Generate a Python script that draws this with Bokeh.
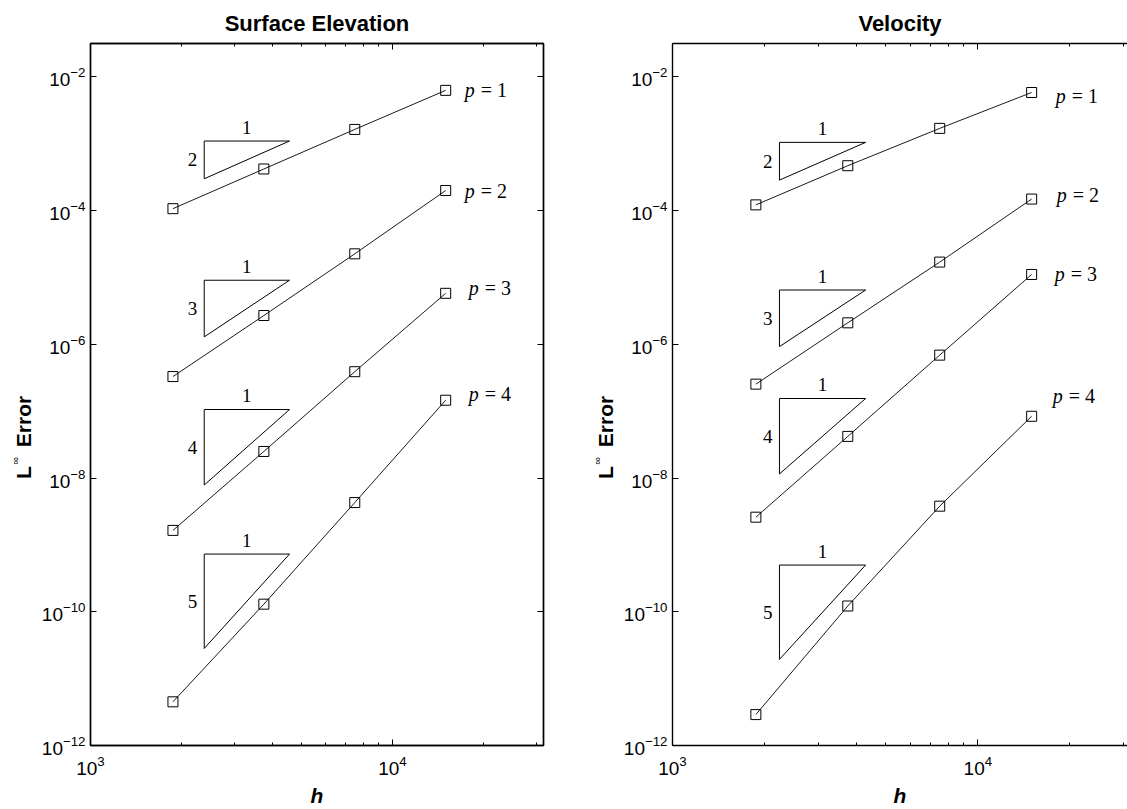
import math
from bokeh.plotting import figure
from bokeh.layouts import row
from bokeh.models import FixedTicker, LogAxis, Range1d, CustomJSTickFormatter
from bokeh.core.properties import value
from bokeh.embed import file_html
from bokeh.resources import INLINE

# ---------------- data ----------------
h = [1875, 3750, 7500, 15000]
orders = [1, 2, 3, 4]

elev_p1 = [1.07e-4, 4.2e-4, 1.64e-3, 6.3e-3]
elev_p2 = [3.3e-7, 2.7e-6, 2.26e-5, 2.0e-4]
elev_p3 = [1.65e-9, 2.5e-8, 3.9e-7, 5.8e-6]
elev_p4 = [4.5e-12, 1.3e-10, 4.3e-9, 1.46e-7]

vel_p1 = [1.22e-4, 4.7e-4, 1.70e-3, 5.85e-3]
vel_p2 = [2.54e-7, 2.1e-6, 1.7e-5, 1.49e-4]
vel_p3 = [2.6e-9, 4.2e-8, 6.9e-7, 1.11e-5]
vel_p4 = [2.9e-12, 1.22e-10, 3.8e-9, 8.4e-8]

# slope triangles: horizontal extent (h), top edge (error), slope
tri_slopes = [2, 3, 4, 5]
elev_tri_x = [2380, 4560]
elev_tri_top = [1.1e-3, 9.1e-6, 1.06e-7, 7.3e-10]
vel_tri_x = [2240, 4290]
vel_tri_top = [1.05e-3, 6.5e-6, 1.55e-7, 5.0e-10]

x_ticks = [1e3, 1e4]
x_minor_ticks = [2e3, 3e3, 4e3, 5e3, 6e3, 7e3, 8e3, 9e3, 2e4, 3e4]
y_ticks = [1e-12, 1e-10, 1e-8, 1e-6, 1e-4, 1e-2]
titles = ["Surface Elevation", "Velocity"]
x_label = "h"
y_label_parts = ["L", "\u221e", "Error"]

# ---------------- style ----------------
SANS = "Liberation Sans"
SERIF = "Liberation Serif"
FIG_H = 790
elev_label_offsets = [(19, 0), (19, 0), (23, -5), (23, -6)]
vel_label_offsets = [(24, 4), (25, -4), (23, 0), (21, -20)]


def style_axis(ax, is_x, labels=True):
    if is_x:
        ax.ticker = FixedTicker(ticks=x_ticks, minor_ticks=x_minor_ticks)
    else:
        ax.ticker = FixedTicker(ticks=y_ticks, minor_ticks=[])
    ax.major_tick_in = 6
    ax.major_tick_out = 0
    ax.minor_tick_in = 3
    ax.minor_tick_out = 0
    ax.axis_line_width = 1.4
    ax.axis_line_color = "black"
    ax.major_tick_line_color = "black"
    ax.minor_tick_line_color = "black"
    ax.major_label_text_font = SANS
    ax.major_label_text_color = "black"
    ax.major_label_text_font_size = "19px"
    if labels:
        ax.major_label_standoff = 10 if is_x else 5
    else:
        ax.formatter = CustomJSTickFormatter(code="return ''")
        ax.major_label_standoff = 0


def y_label_strip(width, x_main, x_sup):
    """Narrow strip carrying the rotated y-axis label  L^inf Error."""
    s = figure(x_axis_type=None, y_axis_type=None,
               x_range=Range1d(0, width), y_range=Range1d(FIG_H, 0),
               frame_width=width, frame_height=FIG_H,
               min_border_left=0, min_border_right=0,
               min_border_top=0, min_border_bottom=0,
               output_backend="svg", toolbar_location=None)
    s.outline_line_color = None
    s.background_fill_color = "white"
    s.border_fill_color = "white"
    s.xgrid.visible = False
    s.ygrid.visible = False
    common = dict(angle=math.pi / 2, text_align="center", text_baseline="middle",
                  text_font=value(SANS), text_color="black")
    s.text(x=[x_main], y=[429], text=[y_label_parts[0]], text_font_size="21px",
           text_font_style="bold", **common)
    s.text(x=[x_sup], y=[417], text=[y_label_parts[1]], text_font_size="11px",
           **common)
    s.text(x=[x_main], y=[378], text=[y_label_parts[2]], text_font_size="21px",
           text_font_style="bold", **common)
    return s


def make_panel(title, series, offsets, tri_x, tri_top, x_end, frame_w,
               border_left, border_right, closed):
    p = figure(x_axis_type="log", y_axis_type="log",
               x_range=Range1d(1e3, x_end), y_range=Range1d(1e-12, 10 ** -1.5),
               frame_width=frame_w, frame_height=702,
               min_border_left=border_left, min_border_right=border_right,
               min_border_top=43, min_border_bottom=FIG_H - 43 - 702,
               output_backend="svg", toolbar_location=None, title=title)
    p.title.text_font = SANS
    p.title.text_font_size = "22px"
    p.title.text_font_style = "bold"
    p.title.align = "center"
    p.title.text_color = "black"
    p.title.standoff = 16
    p.xgrid.visible = False
    p.ygrid.visible = False
    p.background_fill_color = "white"
    p.border_fill_color = "white"
    if closed:
        p.outline_line_color = "black"
        p.outline_line_width = 1.4
    else:
        p.outline_line_color = None

    style_axis(p.xaxis[0], True)
    style_axis(p.yaxis[0], False)
    xa = p.xaxis[0]
    xa.axis_label = x_label
    xa.axis_label_text_font = SANS
    xa.axis_label_text_font_style = "bold italic"
    xa.axis_label_text_font_size = "21px"
    xa.axis_label_standoff = 6
    xa.axis_label_text_color = "black"

    top_ax = LogAxis()
    style_axis(top_ax, True, labels=False)
    p.add_layout(top_ax, "above")
    if closed:
        right_ax = LogAxis()
        style_axis(right_ax, False, labels=False)
        p.add_layout(right_ax, "right")

    # slope triangles
    for slope, top in zip(tri_slopes, tri_top):
        xl, xr = tri_x
        bottom = top / (xr / xl) ** slope
        p.line([xl, xr, xl, xl], [top, top, bottom, top],
               line_color="black", line_width=1)
        p.text(x=[xl], y=[math.sqrt(top * bottom)], text=[str(slope)],
               x_offset=-7, text_align="right", text_baseline="middle",
               text_font=value(SERIF), text_font_size="19px", text_color="black")
        p.text(x=[math.sqrt(xl * xr)], y=[top], text=["1"],
               y_offset=-14, text_align="center", text_baseline="middle",
               text_font=value(SERIF), text_font_size="19px", text_color="black")

    # data series
    for order, ys, (dx, dy) in zip(orders, series, offsets):
        p.line(h, ys, line_color="black", line_width=0.9)
        p.scatter(h, ys, marker="square", size=10, fill_color=None,
                  line_color="black", line_width=1)
        p.text(x=[h[-1]], y=[ys[-1]], text=["p"], x_offset=dx, y_offset=dy,
               text_baseline="middle", text_font=value(SERIF),
               text_font_style="italic", text_font_size="20px", text_color="black")
        p.text(x=[h[-1]], y=[ys[-1]], text=["= %d" % order], x_offset=dx + 16,
               y_offset=dy, text_baseline="middle", text_font=value(SERIF),
               text_font_size="20px", text_color="black")
    return p


strip1 = y_label_strip(34, 23, 14)
p1 = make_panel(titles[0], [elev_p1, elev_p2, elev_p3, elev_p4], elev_label_offsets,
                elev_tri_x, elev_tri_top, 10 ** 4.5, 453, 56, 20, True)
strip2 = y_label_strip(53, 42, 33)
p2 = make_panel(titles[1], [vel_p1, vel_p2, vel_p3, vel_p4], vel_label_offsets,
                vel_tri_x, vel_tri_top, 10 ** 4.49, 455, 56, 0, False)

layout = row(strip1, p1, strip2, p2)
open("out.html", "w").write(file_html(layout, INLINE))
